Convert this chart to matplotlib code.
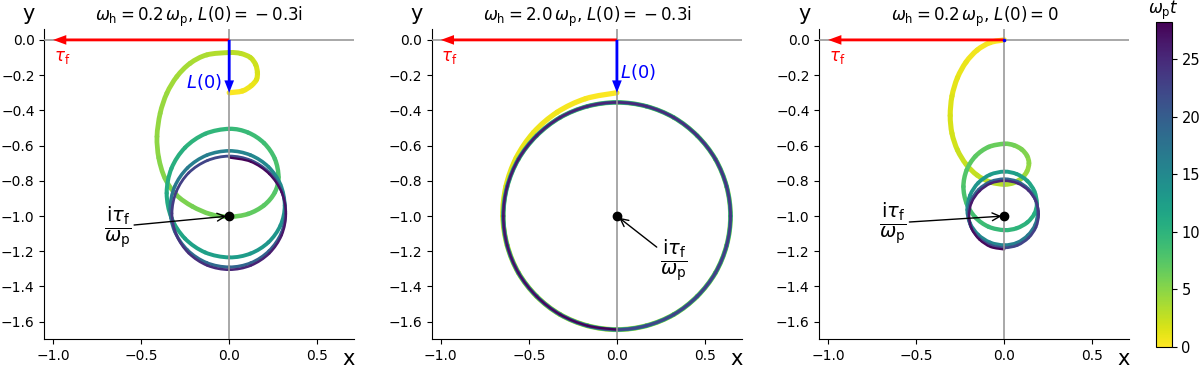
"""Trajectories of L(t) in the complex plane, coloured by omega_p t."""

import numpy as np
import matplotlib

matplotlib.use("Agg")
import matplotlib.pyplot as plt
from matplotlib.collections import PathCollection
from matplotlib.colors import Normalize
from matplotlib.path import Path

T_END = 28.27  # top of the colour bar (9 pi)
COLORBAR_TICKS = [0, 5, 10, 15, 20, 25]
X_TICKS = [-1.0, -0.5, 0.0, 0.5]
Y_TICKS = [0.0, -0.2, -0.4, -0.6, -0.8, -1.0, -1.2, -1.4, -1.6]

titles = [
    r"$\omega_\mathrm{h} = 0.2\,\omega_\mathrm{p}$, $L(0) = {}-0.3\mathrm{i}$",
    r"$\omega_\mathrm{h} = 2.0\,\omega_\mathrm{p}$, $L(0) = {}-0.3\mathrm{i}$",
    r"$\omega_\mathrm{h} = 0.2\,\omega_\mathrm{p}$, $L(0) = 0$",
]
tau_f = -1.0
l0_values = [-0.3, -0.3, 0.0]
fixed_point = (0.0, -1.0)

# panel 1: omega_h = 0.2, L(0) = -0.3i
traj1_t = [
    0.00, 0.39, 0.79, 1.18, 1.57, 1.96, 2.36, 2.75, 3.14,
    3.40, 3.67, 3.93, 4.19, 4.45, 4.71, 4.97, 5.24, 5.50, 5.76, 6.02, 6.28,
    6.68, 7.07, 7.46, 7.85, 8.25, 8.64, 9.03, 9.42, 9.82, 10.21, 10.60, 11.00,
    11.39, 11.78, 12.17, 12.57, 12.96, 13.35, 13.74, 14.14, 14.53, 14.92, 15.32,
    15.71, 16.10, 16.49, 16.89, 17.28, 17.67, 18.06, 18.46, 18.85, 19.24, 19.63,
    20.03, 20.42, 20.81, 21.21, 21.60, 21.99, 22.38, 22.78, 23.17, 23.56, 23.95,
    24.35, 24.74, 25.13, 25.53, 25.92, 26.31, 26.70, 27.10, 27.49, 27.88, 28.27,
]
traj1_x = [
    0.00, 0.075, 0.125, 0.155, 0.16, 0.15, 0.12, 0.065, 0.00,
    -0.127, -0.222, -0.297, -0.354, -0.392, -0.41, -0.40, -0.365, -0.30, -0.21, -0.105, 0.00,
    0.107, 0.198, 0.259, 0.28, 0.259, 0.198, 0.107, 0.00,
    -0.136, -0.251, -0.328, -0.355, -0.328, -0.251, -0.136, 0.00,
    0.121, 0.223, 0.291, 0.315, 0.291, 0.223, 0.121, 0.00,
    -0.128, -0.237, -0.310, -0.335, -0.310, -0.237, -0.128, 0.00,
    0.123, 0.226, 0.296, 0.32, 0.296, 0.226, 0.123, 0.00,
    -0.124, -0.230, -0.300, -0.325, -0.300, -0.230, -0.124, 0.00,
    0.123, 0.228, 0.298, 0.322, 0.298, 0.228, 0.123, 0.00,
]
traj1_y = [
    -0.30, -0.29, -0.26, -0.225, -0.185, -0.14, -0.10, -0.077, -0.072,
    -0.085, -0.133, -0.208, -0.303, -0.417, -0.549, -0.67, -0.785, -0.88, -0.945, -0.99, -1.004,
    -0.988, -0.939, -0.866, -0.78, -0.675, -0.586, -0.526, -0.505,
    -0.533, -0.612, -0.730, -0.87, -1.010, -1.128, -1.207, -1.235,
    -1.213, -1.149, -1.053, -0.94, -0.821, -0.721, -0.654, -0.63,
    -0.655, -0.727, -0.834, -0.96, -1.086, -1.193, -1.265, -1.29,
    -1.266, -1.198, -1.096, -0.975, -0.854, -0.752, -0.684, -0.66,
    -0.685, -0.755, -0.861, -0.985, -1.107, -1.211, -1.281, -1.305,
    -1.281, -1.212, -1.109, -0.988, -0.866, -0.762, -0.692, -0.668,
]

# panel 2: omega_h = 2.0, L(0) = -0.3i (settles on one circle after a quarter turn)
traj2_t = [
    0.00, 0.26, 0.52, 0.79, 1.05, 1.31, 1.57, 1.83, 2.09, 2.36, 2.62, 2.88,
    3.14, 3.40, 3.67, 3.93, 4.19, 4.45, 4.71, 4.97, 5.24, 5.50, 5.76, 6.02, 6.28,
    6.54, 6.81, 7.07, 7.33, 7.59, 7.85, 8.12, 8.38, 8.64, 8.90, 9.16, 9.42,
    9.69, 9.95, 10.21, 10.47, 10.73, 11.00, 11.26, 11.52, 11.78, 12.04, 12.30, 12.57,
    12.83, 13.09, 13.35, 13.61, 13.87, 14.14, 14.40, 14.66, 14.92, 15.18, 15.45, 15.71,
    15.97, 16.23, 16.49, 16.76, 17.02, 17.28, 17.54, 17.80, 18.06, 18.33, 18.59, 18.85,
    19.11, 19.37, 19.63, 19.90, 20.16, 20.42, 20.68, 20.94, 21.21, 21.47, 21.73, 21.99,
    22.25, 22.51, 22.78, 23.04, 23.30, 23.56, 23.82, 24.09, 24.35, 24.61, 24.87, 25.13,
    25.39, 25.66, 25.92, 26.18, 26.44, 26.70, 26.97, 27.23, 27.49, 27.75, 28.01, 28.27,
]
traj2_x = [
    0.00, -0.179, -0.340, -0.474, -0.572, -0.630, -0.648,
    -0.623, -0.559, -0.456, -0.323, -0.167, 0.00, 0.167, 0.323, 0.456, 0.559, 0.623,
    0.645, 0.623, 0.559, 0.456, 0.323, 0.167,
    0.00, -0.167, -0.323, -0.456, -0.559, -0.623, -0.645, -0.623, -0.559, -0.456, -0.323, -0.167,
    0.00, 0.167, 0.323, 0.456, 0.559, 0.623, 0.645, 0.623, 0.559, 0.456, 0.323, 0.167,
    0.00, -0.167, -0.323, -0.456, -0.559, -0.623, -0.645, -0.623, -0.559, -0.456, -0.323, -0.167,
    0.00, 0.167, 0.323, 0.456, 0.559, 0.623, 0.645, 0.623, 0.559, 0.456, 0.323, 0.167,
    0.00, -0.167, -0.323, -0.456, -0.559, -0.623, -0.645, -0.623, -0.559, -0.456, -0.323, -0.167,
    0.00, 0.167, 0.323, 0.456, 0.559, 0.623, 0.645, 0.623, 0.559, 0.456, 0.323, 0.167,
    0.00, -0.167, -0.323, -0.456, -0.559, -0.623, -0.645, -0.623, -0.559, -0.456, -0.323, -0.167,
    0.00,
]
traj2_y = [
    -0.300, -0.334, -0.411, -0.526, -0.670, -0.831, -1.000,
    -1.167, -1.323, -1.456, -1.559, -1.623, -1.645, -1.623, -1.559, -1.456, -1.323, -1.167,
    -1.000, -0.833, -0.677, -0.544, -0.441, -0.377,
    -0.355, -0.377, -0.441, -0.544, -0.677, -0.833, -1.000, -1.167, -1.323, -1.456, -1.559, -1.623,
    -1.645, -1.623, -1.559, -1.456, -1.323, -1.167, -1.000, -0.833, -0.677, -0.544, -0.441, -0.377,
    -0.355, -0.377, -0.441, -0.544, -0.677, -0.833, -1.000, -1.167, -1.323, -1.456, -1.559, -1.623,
    -1.645, -1.623, -1.559, -1.456, -1.323, -1.167, -1.000, -0.833, -0.677, -0.544, -0.441, -0.377,
    -0.355, -0.377, -0.441, -0.544, -0.677, -0.833, -1.000, -1.167, -1.323, -1.456, -1.559, -1.623,
    -1.645, -1.623, -1.559, -1.456, -1.323, -1.167, -1.000, -0.833, -0.677, -0.544, -0.441, -0.377,
    -0.355, -0.377, -0.441, -0.544, -0.677, -0.833, -1.000, -1.167, -1.323, -1.456, -1.559, -1.623,
    -1.645,
]

# panel 3: omega_h = 0.2, L(0) = 0
traj3_t = [
    0.00, 0.26, 0.52, 0.79, 1.05, 1.31, 1.57, 1.83, 2.09, 2.36, 2.62, 2.88, 3.14,
    3.53, 3.93, 4.32, 4.71, 5.11, 5.50, 5.89, 6.28, 6.68, 7.07, 7.46, 7.85, 8.25,
    8.64, 9.03, 9.42, 9.82, 10.21, 10.60, 11.00, 11.39, 11.78, 12.17, 12.57, 12.96,
    13.35, 13.74, 14.14, 14.53, 14.92, 15.32, 15.71, 16.10, 16.49, 16.89, 17.28,
    17.67, 18.06, 18.46, 18.85, 19.24, 19.63, 20.03, 20.42, 20.81, 21.21, 21.60,
    21.99, 22.38, 22.78, 23.17, 23.56, 23.95, 24.35, 24.74, 25.13, 25.53, 25.92,
    26.31, 26.70, 27.10, 27.49, 27.88, 28.27,
]
traj3_x = [
    0.00, -0.080, -0.154, -0.217, -0.266, -0.297, -0.307, -0.297, -0.266, -0.217, -0.154, -0.080, 0.00,
    0.054, 0.099, 0.129, 0.14, 0.129, 0.099, 0.054, 0.00,
    -0.089, -0.164, -0.214, -0.232, -0.214, -0.164, -0.089, 0.00,
    0.071, 0.131, 0.171, 0.185, 0.171, 0.131, 0.071, 0.00,
    -0.080, -0.148, -0.194, -0.21, -0.194, -0.148, -0.080, 0.00,
    0.073, 0.134, 0.176, 0.19, 0.176, 0.134, 0.073, 0.00,
    -0.078, -0.145, -0.189, -0.205, -0.189, -0.145, -0.078, 0.00,
    0.075, 0.138, 0.180, 0.195, 0.180, 0.138, 0.075, 0.00,
    -0.077, -0.141, -0.185, -0.20, -0.185, -0.141, -0.077, 0.00,
]
traj3_y = [
    0.00, -0.015, -0.058, -0.126, -0.215, -0.319, -0.43, -0.531, -0.625, -0.706, -0.768, -0.807, -0.82,
    -0.811, -0.785, -0.746, -0.70, -0.658, -0.622, -0.598, -0.59,
    -0.608, -0.661, -0.740, -0.833, -0.928, -1.008, -1.061, -1.08,
    -1.069, -1.036, -0.987, -0.93, -0.860, -0.801, -0.762, -0.748,
    -0.765, -0.812, -0.882, -0.965, -1.042, -1.106, -1.150, -1.165,
    -1.151, -1.109, -1.048, -0.975, -0.904, -0.844, -0.804, -0.79,
    -0.805, -0.849, -0.913, -0.99, -1.063, -1.124, -1.166, -1.18,
    -1.166, -1.124, -1.063, -0.99, -0.917, -0.856, -0.814, -0.80,
    -0.815, -0.859, -0.923, -1.0, -1.073, -1.134, -1.176, -1.19,
]

trajectories = [
    (traj1_t, traj1_x, traj1_y),
    (traj2_t, traj2_x, traj2_y),
    (traj3_t, traj3_x, traj3_y),
]

FRACTION = r"$\dfrac{\mathrm{i}\tau_\mathrm{f}}{\omega_\mathrm{p}}$"
fraction_text_pos = [(-0.634, -1.06), (0.32, -1.25), (-0.633, -1.04)]
l0_label_pos = [(-0.04, -0.237, "right"), (0.015, -0.185, "left"), None]

AXES_LEFT = [0.0369, 0.3600, 0.6828]
AXES_BOTTOM, AXES_W, AXES_H = 0.0805, 0.2583, 0.840


def smooth_pieces(x, y):
    """One cubic piece per pair of samples, passing through every sample."""
    points = np.column_stack([x, y])
    padded = np.vstack([points[:1], points, points[-1:]])
    codes = [Path.MOVETO, Path.CURVE4, Path.CURVE4, Path.CURVE4]
    pieces = []
    for i in range(len(points) - 1):
        p0, p1, p2, p3 = padded[i], padded[i + 1], padded[i + 2], padded[i + 3]
        c1 = p1 + (p2 - p0) / 6.0
        c2 = p2 - (p3 - p1) / 6.0
        pieces.append(Path([p1, c1, c2, p2], codes))
    return pieces


def draw_path(axis, t, x, y, norm, cmap):
    t = np.asarray(t)
    t_mid = 0.5 * (t[:-1] + t[1:])
    widths = 3.8 - 2.2 * t_mid / T_END
    collection = PathCollection(
        smooth_pieces(x, y),
        edgecolors=cmap(norm(t_mid)),
        facecolors="none",
        linewidths=widths,
        capstyle="round",
        joinstyle="round",
        zorder=2,
    )
    axis.add_collection(collection, autolim=False)


def style_axis(axis, title):
    axis.set_xlim(-1.05, 0.71)
    axis.set_ylim(-1.70, 0.06)
    axis.set_aspect("equal")
    axis.set_xticks(X_TICKS)
    axis.set_yticks(Y_TICKS)
    axis.tick_params(labelsize=10)
    axis.spines["top"].set_visible(False)
    axis.spines["right"].set_visible(False)
    axis.set_title(title, fontsize=12)
    axis.text(-0.049, 1.049, "y", transform=axis.transAxes, ha="center", va="center", fontsize=15)
    axis.text(0.982, -0.062, "x", transform=axis.transAxes, ha="center", va="center", fontsize=15)
    axis.axhline(0, color="0.6", lw=1.2, zorder=3)
    axis.axvline(0, color="0.6", lw=1.2, zorder=3)


fig = plt.figure(figsize=(12, 3.69), dpi=100)
cmap = plt.get_cmap("viridis_r")
norm = Normalize(0, T_END)

for index, (t, x, y) in enumerate(trajectories):
    axis = fig.add_axes([AXES_LEFT[index], AXES_BOTTOM, AXES_W, AXES_H])
    style_axis(axis, titles[index])
    draw_path(axis, t, x, y, norm, cmap)

    axis.arrow(0, 0, tau_f, 0, width=0.016, head_width=0.055, head_length=0.075,
               length_includes_head=True, color="red", lw=0, zorder=4)
    axis.text(-0.95, -0.095, r"$\tau_\mathrm{f}$", color="red", fontsize=12, ha="center", va="center")

    if l0_values[index] != 0:
        axis.arrow(0, 0, 0, l0_values[index], width=0.016, head_width=0.055, head_length=0.07,
                   length_includes_head=True, color="blue", lw=0, zorder=4)
    else:
        axis.plot(0, 0, "o", color="blue", ms=1.5, zorder=4)
    if l0_label_pos[index] is not None:
        lx, ly, ha = l0_label_pos[index]
        axis.text(lx, ly, r"$L(0)$", color="blue", fontsize=13, ha=ha, va="center")

    axis.plot(*fixed_point, "o", color="black", ms=6, zorder=5)
    axis.annotate(
        FRACTION,
        xy=fixed_point,
        xytext=fraction_text_pos[index],
        ha="center",
        va="center",
        fontsize=14,
        arrowprops=dict(arrowstyle="->", color="black", lw=1, shrinkA=0, shrinkB=2),
        zorder=6,
    )

cax = fig.add_axes([0.9633, 0.0604, 0.0131, 0.881])
mappable = plt.cm.ScalarMappable(norm=norm, cmap=cmap)
colorbar = fig.colorbar(mappable, cax=cax, ticks=COLORBAR_TICKS)
colorbar.ax.tick_params(labelsize=10.5)
cax.text(0.5, 1.0, r"$\omega_\mathrm{p} t$", transform=cax.transAxes,
         ha="center", va="bottom", fontsize=12)

fig.savefig("out.png", dpi=100)
plt.close(fig)
